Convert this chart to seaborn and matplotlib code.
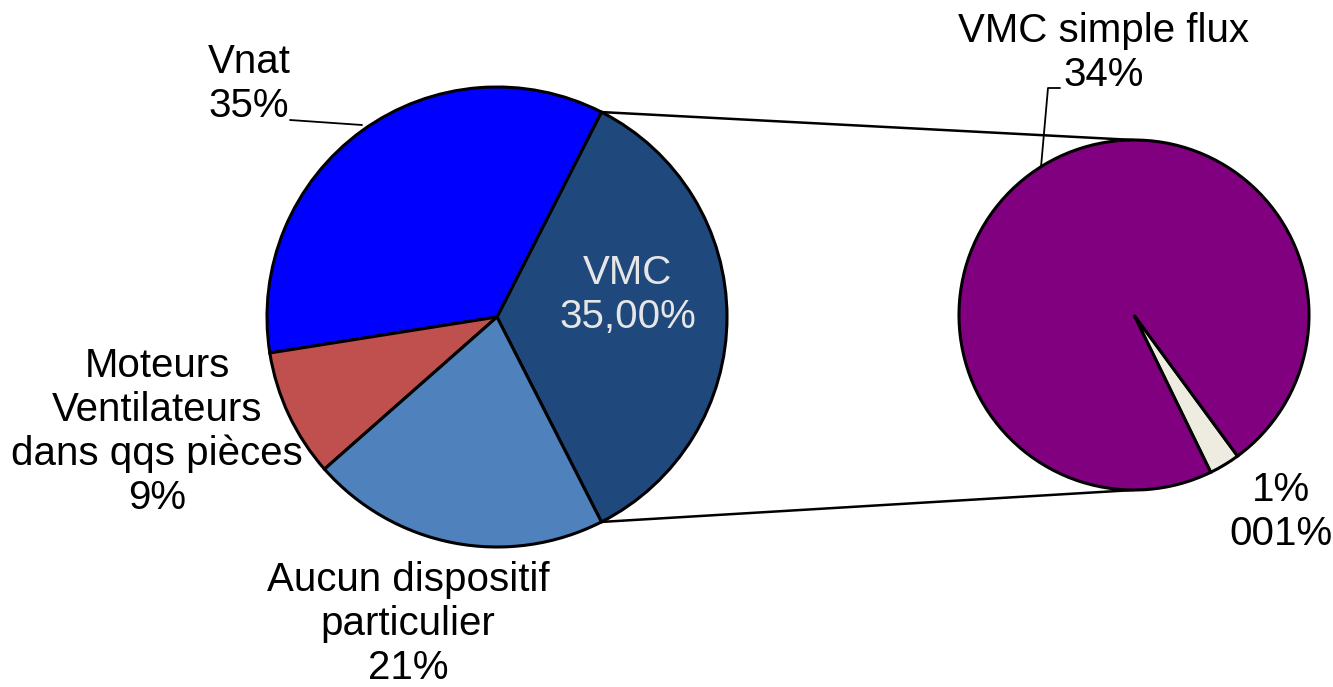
import numpy as np
import matplotlib.pyplot as plt
import seaborn as sns

# main pie (counterclockwise from the VMC slice)
main_labels = ['VMC', 'Vnat', 'Moteurs\nVentilateurs\ndans qqs pièces', 'Aucun dispositif\nparticulier']
main_values = [35, 35, 9, 21]
main_text = ['VMC\n35,00%', 'Vnat\n35%', 'Moteurs\nVentilateurs\ndans qqs pièces\n9%',
             'Aucun dispositif\nparticulier\n21%']
main_colors = ['#1F497D', '#0000FF', '#C0504D', '#4F81BD']

# secondary pie (detail of VMC)
sub_labels = ['autre', 'VMC simple flux']
sub_values = [1, 34]
sub_text = ['1%\n001%', 'VMC simple flux\n34%']
sub_colors = ['#EEECE1', '#800080']

W, H = 1333, 687


def py(y):
    # pixel row -> data y
    return H - y


def generate_plot():
    sns.set_theme(style="white")
    plt.rcParams['font.family'] = ['Liberation Sans', 'DejaVu Sans']

    fig = plt.figure(figsize=(W / 100, H / 100), dpi=100)
    ax = fig.add_axes([0, 0, 1, 1])

    c1, r1 = (497, py(317)), 230
    c2, r2 = (1134, py(315)), 175
    edge = dict(edgecolor='black', linewidth=2.2)

    vmc_span = main_values[0] / sum(main_values) * 360
    w1, _ = ax.pie(main_values, colors=main_colors, startangle=-vmc_span / 2,
                   center=c1, radius=r1, wedgeprops=edge, frame=True)
    w2, _ = ax.pie(sub_values, colors=sub_colors, startangle=-64,
                   center=c2, radius=r2, wedgeprops=edge, frame=True)
    ax.set_xlim(0, W)
    ax.set_ylim(0, H)
    ax.set_aspect('equal')
    ax.axis('off')

    # connector lines from the VMC wedge to the secondary pie
    t1, t2 = np.radians(w1[0].theta1), np.radians(w1[0].theta2)
    top = (c1[0] + r1 * np.cos(t2), c1[1] + r1 * np.sin(t2))
    bot = (c1[0] + r1 * np.cos(t1), c1[1] + r1 * np.sin(t1))
    ax.plot([top[0], c2[0]], [top[1], c2[1] + r2], color='black', lw=1.8, zorder=0)
    ax.plot([bot[0], c2[0]], [bot[1], c2[1] - r2], color='black', lw=1.8, zorder=0)

    fs = 29
    txt = dict(ha='center', va='center', fontsize=fs, linespacing=1.2, color='black')
    ax.text(628, py(295), main_text[0], **{**txt, 'color': '#E6E6E6'})
    ax.text(249, py(84), main_text[1], **txt)
    ax.text(157, py(432), main_text[2], **txt)
    ax.text(408, py(624), main_text[3], **txt)
    ax.text(1104, py(53), sub_text[1], **txt)
    ax.text(1281, py(512), sub_text[0], **txt)

    # leader lines
    ax.plot([290, 362], [py(120), py(125)], color='black', lw=1.3)
    ax.plot([1060, 1048, 1041], [py(88), py(88), py(167)], color='black', lw=1.3)

    fig.savefig('out.png', dpi=100)
    plt.close(fig)


if __name__ == "__main__":
    generate_plot()
